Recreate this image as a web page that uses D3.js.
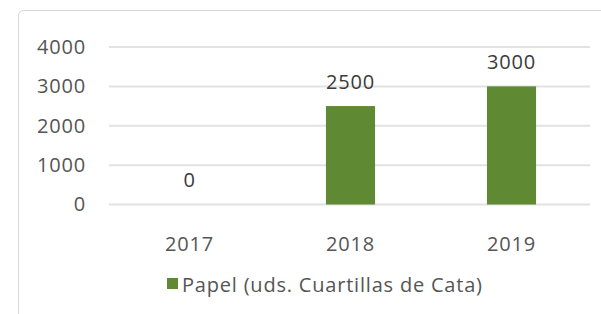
<!DOCTYPE html>
<html>
<head>
<meta charset="utf-8">
<script src="https://cdn.jsdelivr.net/npm/d3@7"></script>
<style>
  body { margin: 0; background: #fff; }
  text { font-family: "Open Sans", sans-serif; }
</style>
</head>
<body>
<script>
// data
const years = ["2017", "2018", "2019"]
const papel = [0, 2500, 3000]
const yTicks = [0, 1000, 2000, 3000, 4000]
const seriesName = "Papel (uds. Cuartillas de Cata)"

const width = 601
const height = 314
const barColor = "#5f8a33"
const gridColor = "#e2e2e2"

const svg = d3.select("body").append("svg")
    .attr("width", width)
    .attr("height", height)

// chart frame (only top/left edges visible in the crop)
svg.append("rect")
    .attr("x", 18.5)
    .attr("y", 10.5)
    .attr("width", 700)
    .attr("height", 400)
    .attr("rx", 5)
    .attr("fill", "#fff")
    .attr("stroke", "#d6d6d6")

const x = d3.scaleBand()
    .domain(years)
    .range([109, 592])
    .paddingInner(0.695)
    .paddingOuter(0.3475)

const y = d3.scaleLinear()
    .domain([0, 4000])
    .range([204.5, 47])

// gridlines
svg.append("g")
    .selectAll("line")
    .data(yTicks)
    .enter().append("line")
    .attr("x1", 109)
    .attr("x2", 590)
    .attr("y1", d => y(d))
    .attr("y2", d => y(d))
    .attr("stroke", gridColor)
    .attr("stroke-width", 2)

// y axis labels
const yAxis = svg.append("g")
    .attr("transform", "translate(86,0)")
    .call(d3.axisLeft(y).tickValues(yTicks).tickFormat(d3.format("d")).tickSize(0).tickPadding(0))
yAxis.select(".domain").remove()
yAxis.selectAll("text")
    .attr("fill", "#555")
    .style("font-size", "20px")
    .style("letter-spacing", "0.8px")

// bars
svg.append("g")
    .selectAll("rect")
    .data(papel)
    .enter().append("rect")
    .attr("x", (d, i) => x(years[i]))
    .attr("y", d => y(d))
    .attr("width", x.bandwidth())
    .attr("height", d => y(0) - y(d))
    .attr("fill", barColor)

// data labels
svg.append("g")
    .selectAll("text")
    .data(papel)
    .enter().append("text")
    .attr("x", (d, i) => x(years[i]) + x.bandwidth() / 2)
    .attr("y", d => y(d) - 25)
    .attr("text-anchor", "middle")
    .attr("dominant-baseline", "central")
    .attr("fill", "#3a3a3a")
    .style("font-size", "20px")
    .style("letter-spacing", "0.8px")
    .text(d => d)

// x axis labels
const xAxis = svg.append("g")
    .attr("transform", "translate(0,234)")
    .call(d3.axisBottom(x).tickSize(0).tickPadding(0))
xAxis.select(".domain").remove()
xAxis.selectAll("text")
    .attr("fill", "#555")
    .attr("dy", "0.85em")
    .style("font-size", "20px")
    .style("letter-spacing", "0.8px")

// legend
const legend = svg.append("g").attr("transform", "translate(167,284)")
legend.append("rect")
    .attr("x", 0)
    .attr("y", -6)
    .attr("width", 11)
    .attr("height", 11)
    .attr("fill", barColor)
legend.append("text")
    .attr("x", 15)
    .attr("y", 0)
    .attr("dominant-baseline", "central")
    .attr("fill", "#555")
    .style("font-size", "20px")
    .style("letter-spacing", "0.8px")
    .text(seriesName)
</script>
</body>
</html>
